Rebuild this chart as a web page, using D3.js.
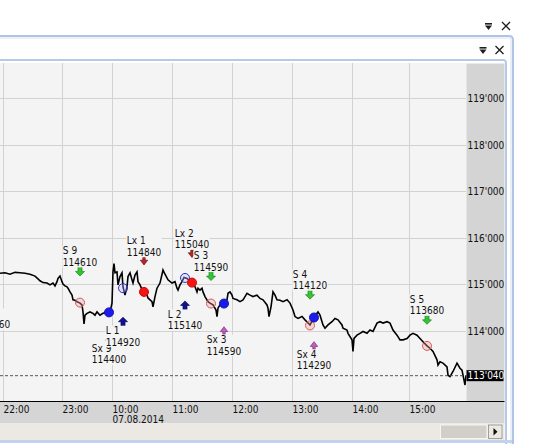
<!DOCTYPE html>
<html><head><meta charset="utf-8">
<script src="https://cdn.jsdelivr.net/npm/d3@7"></script>
<style>
html,body{margin:0;padding:0;background:#fff;}
svg{display:block;font-family:"DejaVu Sans Condensed","DejaVu Sans",sans-serif;}
</style></head><body>
<svg id="c" width="544" height="444"></svg>
<script>
// ---------- DATA ----------
const bars = [-3,2,7,12,17,22,27,32,35,37,40,44,47,50,52,54,55,57,59,60,62,64,65,67,69,70,72,74,76,77,79,80,81,82,84,87,90,92,94,97,100,104,107,109,110,111,112,114,115,117,119,120,122,124,125,127,129,130,132,134,135,137,140,144,145,147,149,150,152,154,157,160,162,165,169,172,174,175,177,179,181,184,187,189,190,192,194,195,197,199,200,202,205,207,210,213,214,215,217,220,224,225,227,229,230,234,237,240,242,244,247,250,254,257,260,264,265,266,268,270,272,274,277,280,284,287,290,292,295,299,302,307,311,314,315,317,320,322,325,329,332,335,339,340,344,345,349,350,351,354,357,360,364,367,370,374,377,380,384,387,390,394,397,400,404,407,410,414,417,420,424,427,430,434,435,437,440,444,445,447,450,454,457,459,460,462,463];
const prices = [115240,115250,115220,115260,115250,115240,115220,115180,115120,115080,115040,115030,114990,115030,114970,115060,115130,115180,115060,115010,114970,114950,114920,114840,114770,114670,114660,114630,114610,114600,114560,114410,114150,114340,114380,114410,114380,114340,114410,114340,114380,114400,114410,114600,115270,115450,115250,115270,114990,115170,115250,114950,114770,114950,115170,115250,115100,115030,115200,115270,115060,114990,114840,114770,114710,114670,114630,114520,114740,114920,115030,115310,115220,115100,115030,115060,114920,114880,114990,115060,115150,115130,115070,115040,115030,114950,114840,114920,114880,114920,114840,114740,114630,114600,114560,114450,114310,114490,114560,114600,114670,114810,114840,114770,114700,114670,114630,114670,114740,114810,114770,114740,114770,114700,114670,114560,114490,114310,114520,114840,114770,114670,114660,114630,114670,114600,114450,114310,114270,114310,114240,114130,114290,114380,114410,114340,114130,114060,114130,114200,114270,114240,114130,114060,114020,113950,113810,113560,113840,113910,113950,113990,113950,114020,113990,114170,114200,114170,114200,114170,114020,113910,113810,113810,113840,113910,113950,113910,113840,113770,113680,113630,113560,113380,113270,113340,113310,113230,113050,113020,113130,113310,113200,113160,113050,112840,113040];

const xTickBars   = [0,59,109,169,229,289,349,406];
const xTickLabels = ["22:00","23:00","10:00","11:00","12:00","13:00","14:00","15:00"];
const dateLabels  = ["","","07.08.2014","","","","",""];
const yTickValues = [114000,115000,116000,117000,118000,119000];
const lastPrice   = 113040;

const sigNames   = ["Sx 8","S 9","Sx 9","L 1","Lx 1","L 2","Lx 2","S 3","Sx 3","S 4","Sx 4","S 5"];
const sigTypes   = ["Sx","S","Sx","L","Lx","L","Lx","S","Sx","S","Sx","S"];
const sigBars    = [-10,77,106,120,141,182,189,208,221,307,311,424];
const sigFill    = [115260,114610,114400,114920,114840,115140,115040,114590,114590,114120,114290,113680];
const sigMarker  = [114570,115280,113820,114200,115500,114550,115660,115180,114010,114780,113690,114240];

// ---------- LAYOUT ----------
const svg = d3.select("#c");
const P = {left:0, right:466.5, top:63, bottom:401};
const x = d3.scaleLinear().domain([-3, 463]).range([0, 466]);
const y = d3.scaleLinear().domain([114000, 119000]).range([331, 98.3]);
const fmt = d3.formatLocale({decimal:".", thousands:"'", grouping:[3], currency:["",""]}).format(",");

// window chrome
svg.append("rect").attr("x",0).attr("y",0).attr("width",544).attr("height",444).attr("fill","#fff");
svg.append("path").attr("d","M-5,36 L509,36 Q513,36 513,40 L513,460").attr("fill","none").attr("stroke","#afc4e6").attr("stroke-width",2);
svg.append("path").attr("d","M-5,38 L509,38 Q511,38 511,40 L511,460").attr("fill","none").attr("stroke","#dbe5f4").attr("stroke-width",1.2);
svg.append("path").attr("d","M-5,60 L503,60 Q506,60 506,63 L506,444").attr("fill","none").attr("stroke","#b6c9e8").attr("stroke-width",2);
svg.append("line").attr("x1",-5).attr("x2",512).attr("y1",441.5).attr("y2",441.5).attr("stroke","#c3d3ee").attr("stroke-width",3);

function iconPair(cx, cxX, cy){
  const g = svg.append("g").attr("fill","#1e1e1e").attr("stroke","#1e1e1e");
  g.append("rect").attr("x",cx-3.5).attr("y",cy-3).attr("width",7).attr("height",1.6).attr("stroke","none");
  g.append("path").attr("d",`M${cx-3.5},${cy-0.5}L${cx+3.5},${cy-0.5}L${cx},${cy+4}Z`).attr("stroke","none");
  g.append("path").attr("d",`M${cxX-4},${cy-4}L${cxX+4},${cy+4}M${cxX+4},${cy-4}L${cxX-4},${cy+4}`).attr("fill","none").attr("stroke-width",1.3);
}
iconPair(488.5, 506, 26);
iconPair(483, 499.5, 50);

svg.append("rect").attr("x",0).attr("y",P.top).attr("width",P.right).attr("height",P.bottom-P.top).attr("fill","#f4f4f4");
svg.append("rect").attr("x",P.right).attr("y",P.top+0.5).attr("width",504.5-P.right).attr("height",P.bottom-P.top).attr("fill","#d4d4d4");
svg.append("rect").attr("x",0).attr("y",P.bottom).attr("width",504.5).attr("height",22.5).attr("fill","#d5d5d5");
svg.append("rect").attr("x",0).attr("y",423.5).attr("width",504.5).attr("height",16.5).attr("fill","#ece9e5");
svg.append("rect").attr("x",440.5).attr("y",425).attr("width",46.5).attr("height",13.5).attr("fill","#d2cec8").attr("stroke","#f7f6f4").attr("stroke-width",1);
svg.append("rect").attr("x",488.5).attr("y",425).attr("width",13.5).attr("height",13.5).attr("fill","#ece9e5").attr("stroke","#8c8c8c").attr("stroke-width",0.8);
svg.append("path").attr("d","M493.5,428L497.5,431.7L493.5,435.4Z").attr("fill","#111");

const grid = svg.append("g").attr("stroke","#d2d2d2").attr("stroke-width",1).attr("shape-rendering","crispEdges");
grid.selectAll(".v").data(xTickBars).join("line")
  .attr("x1",d=>Math.round(x(d))+0.5).attr("x2",d=>Math.round(x(d))+0.5).attr("y1",P.top).attr("y2",P.bottom);
grid.selectAll(".h").data(yTickValues).join("line")
  .attr("x1",0).attr("x2",P.right-1).attr("y1",d=>Math.round(y(d))+0.5).attr("y2",d=>Math.round(y(d))+0.5);

svg.append("line").attr("x1",0).attr("x2",504.5).attr("y1",P.bottom+0.5).attr("y2",P.bottom+0.5).attr("stroke","#000").attr("stroke-width",1.2);

const xl = svg.append("g").attr("font-size",10).attr("fill","#111");
xl.selectAll("text.t").data(xTickBars).join("text").attr("class","t")
  .attr("x",d=>x(d)+0.5).attr("y",413).text((d,i)=>xTickLabels[i]);
xl.selectAll("text.d").data(xTickBars).join("text").attr("class","d")
  .attr("x",d=>x(d)+0.5).attr("y",423).text((d,i)=>dateLabels[i]);

svg.append("g").attr("font-size",10).attr("fill","#111")
  .selectAll("text").data(yTickValues).join("text")
  .attr("x",467.5).attr("y",d=>y(d)+3.7).text(d=>fmt(d));

svg.append("clipPath").attr("id","pc").append("rect").attr("x",0).attr("y",P.top).attr("width",P.right).attr("height",P.bottom-P.top);
const plot = svg.append("g").attr("clip-path","url(#pc)");

const series = bars.map((b,i)=>({b, p:prices[i]}));
plot.append("path").datum(series)
  .attr("d", d3.line().x(d=>x(d.b)).y(d=>y(d.p)))
  .attr("fill","none").attr("stroke","#000").attr("stroke-width",1.6).attr("stroke-linejoin","miter");

plot.append("line").attr("x1",0).attr("x2",P.right).attr("y1",y(lastPrice)).attr("y2",y(lastPrice))
  .attr("stroke","#444").attr("stroke-width",0.9).attr("stroke-dasharray","3,2");

const sigs = sigNames.map((n,i)=>({n, t:sigTypes[i], b:sigBars[i], f:sigFill[i], m:sigMarker[i]}));
const circStyle = {
  S:  {fill:"rgba(240,160,160,0.35)", stroke:"#d85a5a"},
  Sx: {fill:"#1c1ce8", stroke:"#1010c0"},
  L:  {fill:"rgba(190,190,255,0.35)", stroke:"#2c2cd0"},
  Lx: {fill:"#f01616", stroke:"#d00"}
};
plot.selectAll("circle.f").data(sigs).join("circle").attr("class","f")
  .attr("cx",d=>x(d.b)).attr("cy",d=>y(d.f)).attr("r",4.5)
  .attr("fill",d=>circStyle[d.t].fill).attr("stroke",d=>circStyle[d.t].stroke).attr("stroke-width",1);

const shape = {
  S:  "M-2,-4.5L2,-4.5L2,0L4.5,0L0,4.5L-4.5,0L-2,0Z",
  L:  "M-2,4.5L2,4.5L2,0L4.5,0L0,-4.5L-4.5,0L-2,0Z",
  Lx: "M-1.2,-3.8L1.2,-3.8L1.2,-1L3.7,-1L0,3.8L-3.7,-1L-1.2,-1Z",
  Sx: "M-1.2,3.8L1.2,3.8L1.2,1L3.7,1L0,-3.8L-3.7,1L-1.2,1Z"
};
const mStyle = {
  S:  {fill:"#35c335", stroke:"#1b851b"},
  L:  {fill:"#12128e", stroke:"#05055a"},
  Lx: {fill:"#b02828", stroke:"#7a1414"},
  Sx: {fill:"#c060c0", stroke:"#7a2a7a"}
};
sigs.forEach(d=>{
  const cx = x(d.b), cy = y(d.m);
  const above = (d.t==="S" || d.t==="Lx");
  plot.append("path").attr("d",shape[d.t]).attr("transform",`translate(${cx},${cy})`)
    .attr("fill",mStyle[d.t].fill).attr("stroke",mStyle[d.t].stroke).attr("stroke-width",0.7);
  const b1 = above ? cy-17 : cy+12.5;
  const b2 = b1 + 11.5;
  const g = plot.append("g").attr("font-size",10).attr("fill","#111");
  const bg = g.append("rect").attr("fill","#f4f4f4");
  const t1 = g.append("text").attr("y",b1).text(d.n);
  const t2 = g.append("text").attr("y",b2).text(String(d.f));
  const w = Math.max(t1.node().getComputedTextLength(), t2.node().getComputedTextLength());
  const lx = cx - w/2;
  t1.attr("x",lx); t2.attr("x",lx);
  bg.attr("x",lx-0.5).attr("y",b1-8.5).attr("width",w+1).attr("height",b2-b1+10);
});

svg.append("rect").attr("x",466.5).attr("y",y(lastPrice)-5.5).attr("width",37).attr("height",11).attr("fill","#000");
svg.append("text").attr("x",467.5).attr("y",y(lastPrice)+3.7).attr("font-size",10).attr("fill","#fff").text(fmt(lastPrice));
</script>
</body></html>
